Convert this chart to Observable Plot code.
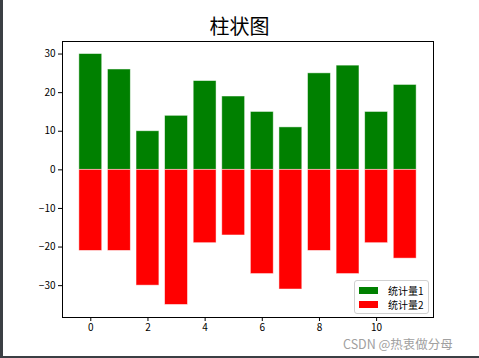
<!DOCTYPE html>
<html>
<head>
<meta charset="utf-8">
<script src="https://cdn.jsdelivr.net/npm/d3@7"></script>
<script src="https://cdn.jsdelivr.net/npm/@observablehq/plot@0.6"></script>
<style>
  html, body { margin: 0; padding: 0; background: #fff; }
  #wrap { position: relative; width: 479px; height: 358px; overflow: hidden; background: #fff;
          font-family: "Noto Sans CJK SC", "DejaVu Sans", sans-serif; }
  #title { position: absolute; left: 0; width: 479px; top: 14px; text-align: center; font-size: 20px; color: #000; line-height: 24px; }
  #legend { position: absolute; left: 354px; top: 280px; width: 73px; height: 32px; border: 1px solid #d0d0d0; border-radius: 3px; background: rgba(255,255,255,0.85); font-size: 10px; }
  .row { position: absolute; left: 4px; height: 12px; display: flex; align-items: center; }
  .sw { width: 19px; height: 7px; margin-right: 10px; }
  #wm { position: absolute; left: 343px; top: 337px; font-size: 12.5px; line-height: 13px; color: #a0a0a0; white-space: nowrap; }
  #lb { position: absolute; left: 0; top: 0; width: 3px; height: 358px; background: #3b3f44; }
  #bb { position: absolute; left: 0; top: 356px; width: 479px; height: 2px; background: #3b3f44; }
  #chart { position: absolute; left: 0; top: 0; }
</style>
</head>
<body>
<div id="wrap">
  <div id="chart"></div>
  <div id="title">柱状图</div>
  <div id="legend">
    <div class="row" style="top:3px"><div class="sw" style="background:green"></div><span>统计量1</span></div>
    <div class="row" style="top:17px"><div class="sw" style="background:red"></div><span>统计量2</span></div>
  </div>
  <div id="wm">CSDN @热衷做分母</div>
  <div id="lb"></div>
  <div id="bb"></div>
</div>
<script>
const categories = [0, 1, 2, 3, 4, 5, 6, 7, 8, 9, 10, 11];
const series1 = [30, 26, 10, 14, 23, 19, 15, 11, 25, 27, 15, 22];
const series2 = [-21, -21, -30, -35, -19, -17, -27, -31, -21, -27, -19, -23];
const xTicks = [0, 2, 4, 6, 8, 10];
const yTicks = [-30, -20, -10, 0, 10, 20, 30];
const seriesNames = ["统计量1", "统计量2"];

const half = 0.4;
const d1 = categories.map((c, i) => ({x: c, v: series1[i], s: seriesNames[0]}));
const d2 = categories.map((c, i) => ({x: c, v: series2[i], s: seriesNames[1]}));

const chart = Plot.plot({
  width: 479,
  height: 358,
  marginTop: 41,
  marginBottom: 41,
  marginLeft: 62,
  marginRight: 46,
  style: {fontFamily: "'Noto Sans CJK SC', 'DejaVu Sans', sans-serif", fontSize: "10px", background: "transparent", color: "#000"},
  x: {domain: [-0.99, 11.99], ticks: xTicks, tickSize: 4, label: null, tickPadding: 2},
  y: {domain: [-38.25, 33.25], ticks: yTicks, tickSize: 4, label: null, tickPadding: 3},
  marks: [
    Plot.rectY(d1, {x1: d => d.x - half, x2: d => d.x + half, y: "v", fill: "green", stroke: "#ffffff", strokeOpacity: 0.6, strokeWidth: 0.8}),
    Plot.rectY(d2, {x1: d => d.x - half, x2: d => d.x + half, y: "v", fill: "red", stroke: "#ffffff", strokeOpacity: 0.6, strokeWidth: 0.8}),
    Plot.frame({stroke: "#000", strokeWidth: 1})
  ]
});
document.getElementById("chart").appendChild(chart);
</script>
</body>
</html>
